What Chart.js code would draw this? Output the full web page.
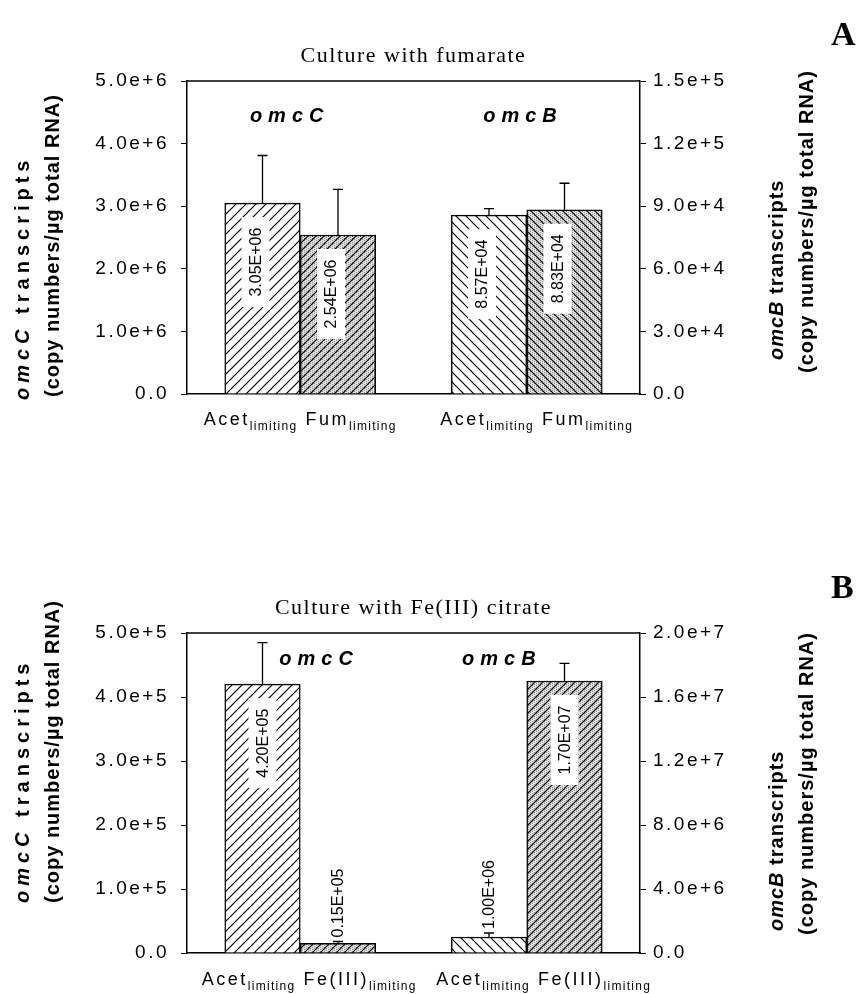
<!DOCTYPE html>
<html>
<head>
<meta charset="utf-8">
<script src="https://cdn.jsdelivr.net/npm/chart.js@4.4.0/dist/chart.umd.min.js"></script>
<style>
  html, body { margin: 0; padding: 0; background: #fff; }
  body { width: 859px; height: 994px; position: relative; overflow: hidden; }
  canvas { position: absolute; left: 0; }
  #panelA { top: 0; }
  #panelB { top: 497px; }
</style>
</head>
<body>
<canvas id="panelA" width="859" height="497"></canvas>
<canvas id="panelB" width="859" height="497"></canvas>
<script>
// x slots of the four bars (slot 2 is the gap between the two genes)
const barSlots = [0, 1, 3, 4];
const subscript = "limiting";

// A - culture with fumarate
const conditionsA = ["Acet", "Fum", "Acet", "Fum"];
const omcC_A = [3.05e6, 2.54e6];
const omcC_A_err = [0.76e6, 0.73e6];
const omcB_A = [8.57e4, 8.83e4];
const omcB_A_err = [0.31e4, 1.27e4];
const valueLabelsA = ["3.05E+06", "2.54E+06", "8.57E+04", "8.83E+04"];
const leftTicksA = ["0.0", "1.0e+6", "2.0e+6", "3.0e+6", "4.0e+6", "5.0e+6"];
const rightTicksA = ["0.0", "3.0e+4", "6.0e+4", "9.0e+4", "1.2e+5", "1.5e+5"];

// B - culture with Fe(III) citrate
const conditionsB = ["Acet", "Fe(III)", "Acet", "Fe(III)"];
const omcC_B = [4.20e5, 0.15e5];
const omcC_B_err = [0.65e5, 0.03e5];
const omcB_B = [1.00e6, 1.70e7];
const omcB_B_err = [0.25e6, 0.11e7];
const valueLabelsB = ["4.20E+05", "0.15E+05", "1.00E+06", "1.70E+07"];
const leftTicksB = ["0.0", "1.0e+5", "2.0e+5", "3.0e+5", "4.0e+5", "5.0e+5"];
const rightTicksB = ["0.0", "4.0e+6", "8.0e+6", "1.2e+7", "1.6e+7", "2.0e+7"];

const SANS = "'Liberation Sans', Arial, sans-serif";
const SERIF = "'Liberation Serif', 'Times New Roman', serif";

// diagonal hatch fill, optionally on a dithered grey ground
function hatch(ctx, dir, step, grey) {
  const c = document.createElement("canvas");
  c.width = step; c.height = step;
  const g = c.getContext("2d");
  g.fillStyle = grey ? "#e2e2e2" : "#fff";
  g.fillRect(0, 0, step, step);
  if (grey) {
    g.fillStyle = "#8c8c8c";
    for (let i = 0; i < step; i += 2)
      for (let j = (i / 2) % 2; j < step; j += 2) g.fillRect(i, j, 1, 1);
  }
  g.strokeStyle = "#000";
  g.lineWidth = 1.2;
  g.beginPath();
  if (dir === "/") {
    g.moveTo(-1, step + 1); g.lineTo(step + 1, -1);
    g.moveTo(-1, 1); g.lineTo(1, -1);
    g.moveTo(step - 1, step + 1); g.lineTo(step + 1, step - 1);
  } else {
    g.moveTo(-1, -1); g.lineTo(step + 1, step + 1);
    g.moveTo(step - 1, -1); g.lineTo(step + 1, 1);
    g.moveTo(-1, step - 1); g.lineTo(1, step + 1);
  }
  g.stroke();
  return ctx.createPattern(c, "repeat");
}

function text(ctx, str, x, y, font, spacing, align) {
  ctx.font = font;
  ctx.letterSpacing = (spacing || 0) + "px";
  ctx.textAlign = align || "left";
  ctx.fillText(str, x, y);
}

// rotated axis title made of [string, font] parts, read bottom to top
function yTitle(ctx, x, yBottom, parts, spacing) {
  ctx.save();
  ctx.translate(x, yBottom);
  ctx.rotate(-Math.PI / 2);
  ctx.textBaseline = "middle";
  ctx.textAlign = "left";
  ctx.letterSpacing = spacing + "px";
  let pos = 0;
  parts.forEach(([s, f]) => {
    ctx.font = f;
    ctx.fillText(s, pos, 0);
    pos += ctx.measureText(s).width;
  });
  ctx.restore();
}

function makePanel(id, cfg) {
  const ctx = document.getElementById(id).getContext("2d");

  const decor = {
    id: "decor",
    beforeDraw(chart) { chart.ctx.letterSpacing = "2.5px"; },
    beforeDatasetsDraw(chart) { chart.ctx.letterSpacing = "0px"; },
    afterDraw(chart) {
      const c = chart.ctx;
      const area = chart.chartArea;
      const xs = chart.scales.x;
      c.save();
      c.fillStyle = "#000";
      c.strokeStyle = "#000";
      c.textBaseline = "alphabetic";

      // frame top
      c.lineWidth = 1.5;
      c.beginPath();
      c.moveTo(area.left, area.top);
      c.lineTo(area.right, area.top);
      c.stroke();

      // error bars + value labels
      let k = 0;
      chart.data.datasets.forEach((ds, di) => {
        const meta = chart.getDatasetMeta(di);
        const ys = chart.scales[ds.yAxisID];
        meta.data.forEach((bar, i) => {
          const v = ds.data[i].y;
          const errTop = ys.getPixelForValue(v + ds.errors[i]);
          c.lineWidth = 1.3;
          c.beginPath();
          c.moveTo(bar.x, bar.y);
          c.lineTo(bar.x, errTop);
          c.moveTo(bar.x - 5, errTop);
          c.lineTo(bar.x + 5, errTop);
          c.stroke();

          const lab = cfg.valueLabels[k++];
          const h = bar.base - bar.y;
          c.save();
          c.font = "16px " + SANS;
          c.letterSpacing = "0px";
          c.textBaseline = "middle";
          if (h > 120) {
            const cx = bar.x + cfg.labelShift;
            const cy = bar.y + 14 + 45;
            c.fillStyle = "#fff";
            c.fillRect(cx - 14, cy - 45, 28, 90);
            c.fillStyle = "#000";
            c.translate(cx, cy);
            c.rotate(-Math.PI / 2);
            c.textAlign = "center";
            c.fillText(lab, 0, 1);
          } else {
            c.translate(bar.x, errTop - 4);
            c.rotate(-Math.PI / 2);
            c.textAlign = "left";
            c.fillText(lab, 0, 1);
          }
          c.restore();
        });
      });

      // gene names
      c.textBaseline = "alphabetic";
      const geneFont = "italic bold 20px " + SANS;
      text(c, "omcC", xs.getPixelForValue(cfg.geneSlots[0]), area.top + cfg.geneDy, geneFont, 6, "center");
      text(c, "omcB", xs.getPixelForValue(cfg.geneSlots[1]), area.top + cfg.geneDy, geneFont, 6, "center");

      // panel title and letter
      text(c, cfg.title, (area.left + area.right) / 2, cfg.titleY, "22px " + SERIF, 1.5, "center");
      text(c, cfg.letter, 831, cfg.letterY, "bold 34px " + SERIF, 0, "left");

      // axis titles
      const b = "bold 20px " + SANS, bi = "italic bold 20px " + SANS;
      yTitle(c, 23, cfg.leftT[0], [["omcC", bi], [" transcripts", b]], 5);
      yTitle(c, 53, cfg.leftT[1], [["(copy numbers/\u00b5g total RNA)", b]], 1);
      yTitle(c, 777, cfg.rightT[0], [["omcB", bi], [" transcripts", b]], 1);
      yTitle(c, 807, cfg.rightT[1], [["(copy numbers/\u00b5g total RNA)", b]], 1);

      // category labels with subscripts, laid out per gene pair
      const mainFont = "18px " + SANS, subFont = "12px " + SANS;
      const y0 = area.bottom + cfg.xLabelDy;
      [0, 2].forEach((p, g) => {
        const widths = [p, p + 1].map((j) => {
          c.font = mainFont; c.letterSpacing = "2.5px";
          const w1 = c.measureText(cfg.conditions[j]).width;
          c.font = subFont; c.letterSpacing = "1.3px";
          const w2 = c.measureText(subscript).width;
          return [w1, w2];
        });
        const gap = 8;
        const total = widths[0][0] + widths[0][1] + gap + widths[1][0] + widths[1][1];
        const mid = (xs.getPixelForValue(barSlots[p]) + xs.getPixelForValue(barSlots[p + 1])) / 2 + cfg.xShift[g];
        let x = mid - total / 2;
        [p, p + 1].forEach((j, n) => {
          text(c, cfg.conditions[j], x, y0, mainFont, 2.5, "left");
          x += widths[n][0];
          text(c, subscript, x, y0 + 5, subFont, 1.3, "left");
          x += widths[n][1] + gap;
        });
      });
      c.restore();
    },
  };

  const tickFont = { family: SANS, size: 19 };

  return new Chart(ctx, {
    type: "bar",
    data: {
      datasets: [
        {
          label: "omcC",
          yAxisID: "y",
          data: cfg.omcC.map((v, i) => ({ x: barSlots[i], y: v })),
          errors: cfg.omcCErr,
          backgroundColor: cfg.fillsC(ctx),
        },
        {
          label: "omcB",
          yAxisID: "y1",
          data: cfg.omcB.map((v, i) => ({ x: barSlots[i + 2], y: v })),
          errors: cfg.omcBErr,
          backgroundColor: cfg.fillsB(ctx),
        },
      ],
    },
    options: {
      responsive: false,
      animation: false,
      devicePixelRatio: 1,
      layout: { padding: { top: cfg.top, left: 0, right: 0, bottom: 0 } },
      datasets: {
        bar: {
          grouped: false,
          barPercentage: 1,
          categoryPercentage: 1,
          borderColor: "#000",
          borderWidth: 1.5,
        },
      },
      plugins: {
        legend: { display: false },
        tooltip: { enabled: false },
      },
      scales: {
        x: {
          type: "linear",
          min: -1,
          max: 5,
          offset: false,
          grid: { display: false },
          ticks: { display: false },
          border: { display: true, color: "#000", width: 1.5 },
          afterFit: (s) => { s.height = cfg.xHeight; },
        },
        y: {
          position: "left",
          min: 0,
          max: cfg.leftMax,
          ticks: {
            stepSize: cfg.leftMax / 5,
            color: "#000",
            font: tickFont,
            padding: 12,
            callback: (v, i) => cfg.leftTicks[i],
          },
          grid: { drawOnChartArea: false, tickLength: 6, color: "#000" },
          border: { display: true, color: "#000", width: 1.5 },
          afterFit: (s) => { s.width = 187; },
        },
        y1: {
          position: "right",
          min: 0,
          max: cfg.rightMax,
          ticks: {
            stepSize: cfg.rightMax / 5,
            color: "#000",
            font: tickFont,
            padding: 7,
            callback: (v, i) => cfg.rightTicks[i],
          },
          grid: { drawOnChartArea: false, tickLength: 6, color: "#000" },
          border: { display: true, color: "#000", width: 1.5 },
          afterFit: (s) => { s.width = 219; },
        },
      },
    },
    plugins: [decor],
  });
}

makePanel("panelA", {
  omcC: omcC_A, omcCErr: omcC_A_err,
  omcB: omcB_A, omcBErr: omcB_A_err,
  fillsC: (c) => [hatch(c, "/", 10, false), hatch(c, "/", 8, true)],
  fillsB: (c) => [hatch(c, "\\", 10, false), hatch(c, "\\", 8, true)],
  valueLabels: valueLabelsA, conditions: conditionsA,
  leftTicks: leftTicksA, rightTicks: rightTicksA,
  leftMax: 5e6, rightMax: 1.5e5,
  top: 81, xHeight: 103,
  title: "Culture with fumarate", titleY: 62,
  letter: "A", letterY: 45,
  geneSlots: [0.36, 3.45], geneDy: 41,
  labelShift: -7,
  leftT: [400, 397], rightT: [360, 373],
  xLabelDy: 31, xShift: [0, 10],
});

makePanel("panelB", {
  omcC: omcC_B, omcCErr: omcC_B_err,
  omcB: omcB_B, omcBErr: omcB_B_err,
  fillsC: (c) => [hatch(c, "/", 10, false), hatch(c, "/", 8, true)],
  fillsB: (c) => [hatch(c, "\\", 10, false), hatch(c, "/", 8, true)],
  valueLabels: valueLabelsB, conditions: conditionsB,
  leftTicks: leftTicksB, rightTicks: rightTicksB,
  leftMax: 5e5, rightMax: 2e7,
  top: 136, xHeight: 41,
  title: "Culture with Fe(III) citrate", titleY: 117,
  letter: "B", letterY: 101,
  geneSlots: [0.75, 3.17], geneDy: 32,
  labelShift: 0,
  leftT: [406, 406], rightT: [434, 438],
  xLabelDy: 32, xShift: [9, 17],
});
</script>
</body>
</html>
